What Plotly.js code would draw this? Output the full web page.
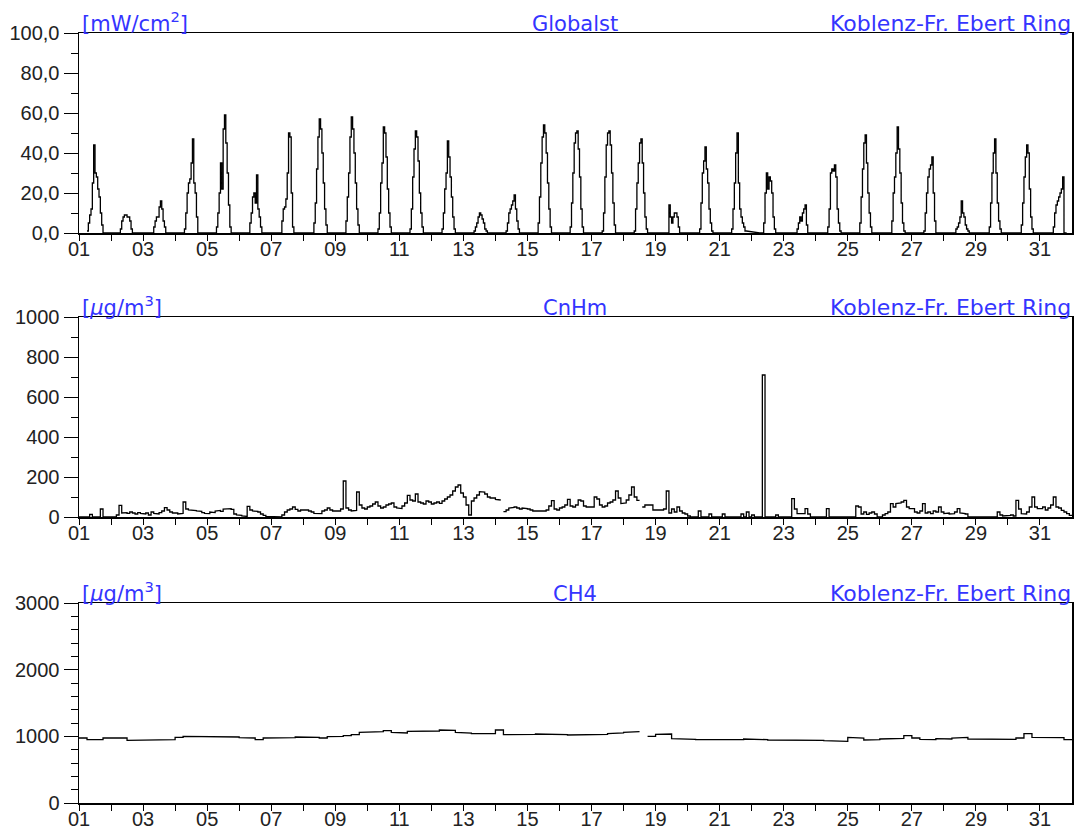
<!DOCTYPE html>
<html><head><meta charset="utf-8">
<script src="https://cdn.plot.ly/plotly-3.0.1.min.js"></script>
<style>html,body{margin:0;padding:0;background:#fff}#chart{width:1079px;height:830px}</style>
</head><body><div id="chart"></div>
<script>
// ---- x axis: days of the month ----
const dayLabels = ["01","","03","","05","","07","","09","","11","","13","","15","","17","","19","","21","","23","","25","","27","","29","","31"];

// ---- Globalst [mW/cm2], hourly values, hours 6..19 for each day ----
const globalHours = [6,7,8,9,10,11,12,13,14,15,16,17,18,19];
const globalst = [
 [1,5,9,12,25,44,30,28,22,18,10,4,0,0],
 [0,2,6,8,9,9,8,8,6,2,0,0,0,0],
 [0,0,3,6,8,8,13,16,12,6,3,0,0,0],
 [0,2,10,20,25,27,35,47,25,20,8,0,0,0],
 [0,3,10,20,35,22,52,59,45,30,14,3,0,0],
 [0,0,5,10,18,20,15,29,12,8,3,0,0,0],
 [0,0,6,12,13,17,30,50,48,20,3,0,0,0],
 [0,0,5,15,32,48,57,52,40,25,12,4,0,0],
 [0,0,6,18,30,48,58,52,40,25,12,4,0,0],
 [0,0,2,10,25,35,53,50,38,22,10,3,0,0],
 [0,0,2,12,28,42,51,48,36,20,10,3,0,0],
 [0,0,2,10,22,30,46,38,28,18,8,2,0,0],
 [0,0,1,3,5,8,10,9,7,5,2,1,0,0],
 [0,0,1,5,10,12,14,16,19,12,6,2,0,0],
 [0,0,5,18,35,48,54,50,40,25,12,3,0,0],
 [0,0,3,15,30,45,50,51,42,28,12,3,0,0],
 [0,0,1,10,28,44,50,51,44,30,15,4,0,0],
 [0,0,1,12,25,35,45,47,35,20,8,2,0,0],
 [0,0,0,0,14,8,5,8,10,10,8,3,0,0],
 [0,0,0,2,15,30,36,43,32,25,12,5,1,0],
 [0,0,0,2,12,25,40,50,25,12,8,5,3,1],
 [0,0,0,5,20,30,22,28,26,20,8,2,0,0],
 [0,0,0,0,2,5,8,6,10,12,14,4,0,0],
 [0,0,0,3,12,30,32,31,34,28,12,5,1,0],
 [0,0,0,5,18,32,45,49,35,20,10,3,0,0],
 [0,0,0,6,20,28,40,53,42,30,15,5,1,0],
 [0,0,0,1,10,20,28,32,34,38,20,6,0,0],
 [0,0,0,2,3,5,8,16,10,8,4,2,1,0],
 [0,0,0,0,3,15,30,40,47,30,15,6,2,0],
 [0,0,0,0,4,15,28,38,44,40,22,8,2,0],
 [0,0,0,0,3,10,14,16,18,20,22,28,0,0]
];

// ---- CnHm [µg/m3], 2-hour values (start hours 0..22) for each day ----
const cnhmHours = [0,2,4,6,8,10,12,14,16,18,20,22];
const cnhm = [
 [0,0,0,0,13,0,0,0,40,0,0,0],
 [0,0,10,58,20,22,18,25,20,15,22,18],
 [15,20,10,25,18,15,22,30,47,35,25,20],
 [20,15,18,75,40,35,35,32,30,28,22,18],
 [17,25,22,30,33,28,40,42,42,38,15,10],
 [8,5,3,53,35,30,28,25,15,8,3,0],
 [0,0,0,0,10,25,35,40,50,38,30,35],
 [33,35,30,25,18,15,17,30,35,45,35,30],
 [33,30,40,180,45,35,30,33,125,60,45,40],
 [50,55,65,75,55,45,50,60,65,70,50,45],
 [42,55,70,108,85,80,115,75,70,65,80,75],
 [65,70,75,68,80,90,100,110,130,150,160,120],
 [100,60,10,80,95,110,127,125,115,100,95,95],
 [88,85,null,27,35,45,48,50,45,40,45,42],
 [40,35,30,30,28,30,30,35,55,82,40,35],
 [45,50,60,88,55,50,60,85,80,55,50,52],
 [50,100,90,60,50,55,70,75,85,130,95,67],
 [70,85,110,150,100,83,null,50,60,63,60,35],
 [35,33,35,40,130,20,40,25,50,30,20,15],
 [5,0,0,0,30,0,0,0,15,0,0,0],
 [0,15,0,0,0,0,0,0,15,0,25,0],
 [10,0,0,0,710,0,0,0,0,10,0,0],
 [0,0,0,92,40,17,15,17,42,15,0,0],
 [0,0,0,0,42,0,0,0,0,0,0,0],
 [0,0,0,55,50,15,25,13,20,25,15,0],
 [0,10,17,25,67,50,67,70,75,83,50,42],
 [42,25,20,30,67,20,25,17,30,25,50,25],
 [17,20,15,17,25,42,20,17,15,0,0,0],
 [0,0,0,0,0,0,0,0,25,10,5,8],
 [8,10,5,83,40,17,15,25,50,100,50,42],
 [42,50,35,45,60,100,50,45,33,25,17,8]
];

// ---- CH4 [µg/m3], 6-hour values (start hours 0,6,12,18) for each day ----
const ch4Hours = [0,6,12,18];
const ch4 = [
 [975,950,950,975],[975,975,940,940],[945,950,945,950],[985,1000,995,990],
 [990,995,1000,990],[980,975,950,975],[975,975,980,990],[990,985,975,995],
 [1000,1010,1025,1060],[1065,1070,1085,1060],[1050,1075,1070,1075],[1080,1095,1090,1060],
 [1050,1040,1035,1040],[1095,1025,1020,1020],[1030,1035,1035,1030],[1025,1020,1020,1025],
 [1020,1030,1040,1050],[1060,1070,null,1000],[1030,1035,965,960],[955,950,955,945],
 [950,955,950,960],[955,950,945,950],[940,945,950,945],[940,935,930,925],
 [985,975,945,950],[960,965,970,1010],[975,955,950,965],[960,975,985,960],
 [950,950,950,950],[955,975,1040,985],[985,985,980,950]
];

// ---- y tick labels ----
const globalTickVals = [0,20,40,60,80,100];
const globalTickText = ["0,0","20,0","40,0","60,0","80,0","100,0"];
const cnhmTickVals = [0,200,400,600,800,1000];
const cnhmTickText = ["0","200","400","600","800","1000"];
const ch4TickVals = [0,1000,2000,3000];
const ch4TickText = ["0","1000","2000","3000"];

const station = "Koblenz-Fr. Ebert Ring";
const panelNames = ["Globalst","CnHm","CH4"];
const panelUnits = ["[mW/cm<sup>2</sup>]","[<i>µ</i>g/m<sup>3</sup>]","[<i>µ</i>g/m<sup>3</sup>]"];

// each reading is held over its interval (step line); a missing reading leaves a gap
function buildSeries(rows, hours, slotHours) {
  const x = [], y = [];
  rows.forEach((r, i) => {
    r.forEach((v, j) => {
      const t0 = i + 1 + hours[j] / 24;
      const t1 = t0 + slotHours / 24;
      if (v === null) { x.push(t0); y.push(null); return; }
      x.push(t0, t1); y.push(v, v);
    });
  });
  return {x, y};
}

const W = 1079, H = 830;
const xd = [79 / W, 1072 / W];
const tops = [33, 317, 603];
const bots = [233, 517, 803];
const doms = tops.map((t, i) => [1 - bots[i] / H, 1 - t / H]);

const s1 = buildSeries(globalst, globalHours, 1);
const s2 = buildSeries(cnhm, cnhmHours, 2);
const s3 = buildSeries(ch4, ch4Hours, 6);

const lineStyle = {color: '#000', width: 1.3, shape: 'linear'};
const traces = [
  {x: s1.x, y: s1.y, xaxis: 'x', yaxis: 'y', type: 'scatter', mode: 'lines', line: lineStyle, connectgaps: false, hoverinfo: 'skip'},
  {x: s2.x, y: s2.y, xaxis: 'x2', yaxis: 'y2', type: 'scatter', mode: 'lines', line: lineStyle, connectgaps: false, hoverinfo: 'skip'},
  {x: s3.x, y: s3.y, xaxis: 'x3', yaxis: 'y3', type: 'scatter', mode: 'lines', line: lineStyle, connectgaps: false, hoverinfo: 'skip'}
];

const tickFont = {family: 'Liberation Sans, Arial, sans-serif', size: 20, color: '#222'};
function xAxis(anchor) {
  return {
    domain: xd, anchor: anchor, range: [1, 32],
    tickmode: 'array', tickvals: dayLabels.map((_, i) => i + 1), ticktext: dayLabels,
    ticks: 'outside', ticklen: 6, tickwidth: 1, tickcolor: '#000',
    ticklabelstandoff: -9,
    showline: true, mirror: true, linecolor: '#000', linewidth: 1.5,
    showgrid: false, zeroline: false, tickfont: tickFont, fixedrange: true
  };
}
function yAxis(anchor, dom, range, vals, text, minorStep) {
  return {
    domain: dom, anchor: anchor, range: range,
    tickmode: 'array', tickvals: vals, ticktext: text,
    ticks: 'outside', ticklen: 14, tickwidth: 1, tickcolor: '#000',
    minor: {ticks: 'outside', ticklen: 7, tickwidth: 1, tickcolor: '#000', tickmode: 'linear', tick0: 0, dtick: minorStep, showgrid: false},
    showline: true, mirror: true, linecolor: '#000', linewidth: 1.5,
    showgrid: false, zeroline: false, tickfont: tickFont, fixedrange: true
  };
}

const blue = '#3434ff';
const titleFont = {family: 'DejaVu Sans, sans-serif', size: 21, color: blue};
const stationFont = {family: 'DejaVu Sans, sans-serif', size: 22, color: blue};
const annotations = [];
doms.forEach((d, i) => {
  annotations.push({xref: 'paper', yref: 'paper', x: 80 / W, y: d[1], xanchor: 'left', yanchor: 'bottom', yshift: -5, text: panelUnits[i], showarrow: false, font: titleFont});
  annotations.push({xref: 'paper', yref: 'paper', x: 575 / W, y: d[1], xanchor: 'center', yanchor: 'bottom', yshift: -5, text: panelNames[i], showarrow: false, font: titleFont});
  annotations.push({xref: 'paper', yref: 'paper', x: 1073 / W, y: d[1], xanchor: 'right', yanchor: 'bottom', yshift: -5, text: station, showarrow: false, font: stationFont});
});

const layout = {
  width: W, height: H, margin: {l: 0, r: 0, t: 0, b: 0},
  paper_bgcolor: '#fff', plot_bgcolor: '#fff', showlegend: false,
  xaxis: xAxis('y'), xaxis2: xAxis('y2'), xaxis3: xAxis('y3'),
  yaxis: yAxis('x', doms[0], [0, 100], globalTickVals, globalTickText, 10),
  yaxis2: yAxis('x2', doms[1], [0, 1000], cnhmTickVals, cnhmTickText, 100),
  yaxis3: yAxis('x3', doms[2], [0, 3000], ch4TickVals, ch4TickText, 200),
  annotations: annotations
};

Plotly.newPlot('chart', traces, layout, {staticPlot: true, displayModeBar: false});
</script>
</body></html>
